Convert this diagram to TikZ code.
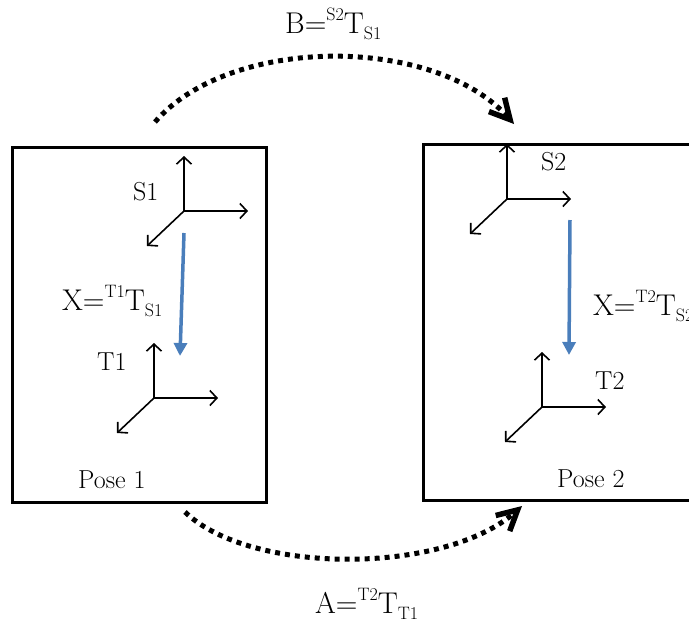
\documentclass[tikz,border=0pt]{standalone}
\usepackage{fontspec}
\usetikzlibrary{arrows.meta}
\definecolor{myblue}{HTML}{4A7EBB}
\newcommand\tflabel[3]{#1=\raisebox{0.42em}{\fontsize{18}{18}\selectfont #2}T\raisebox{-0.22em}{\fontsize{18}{18}\selectfont #3}}
\begin{document}
\begin{tikzpicture}[x=1pt,y=-1pt,
  pose/.style={draw,line width=3pt,inner sep=0pt},
  axis/.style={line width=1.6pt,-{Straight Barb[length=7pt,width=15pt,line width=1.6pt]}},
  blueconn/.style={draw=myblue,line width=3.5pt,-{Triangle[length=13pt,width=13pt]}},
  dotarc/.style={line width=5pt,dash pattern=on 5pt off 5pt,-{Straight Barb[length=20pt,width=21pt,line width=5.5pt]}},
  biglabel/.style={font=\fontsize{30}{34}\selectfont,inner sep=0pt},
  smalllabel/.style={font=\fontsize{26}{30}\selectfont,inner sep=0pt}]
\clip (0,0) rectangle (689,622);
\useasboundingbox (0,0) rectangle (689,622);
% pose boxes
\node[pose,minimum width=254pt,minimum height=355pt] (box1) at (139,324.5) {};
\node[pose,minimum width=297pt,minimum height=356pt] (box2) at (571.5,322) {};
% coordinate frames
\foreach \n/\x/\y in {s1/184/211,t1/154/398,s2/507/199,t2/542/407}{
  \coordinate (\n) at (\x,\y);
  \coordinate (\n up) at (\x,\y-55);
  \coordinate (\n right) at (\x+64,\y);
  \coordinate (\n dl) at (\x-37,\y+35);
  \draw[axis] (\n) -- (\n up);
  \draw[axis] (\n) -- (\n right);
  \draw[axis] (\n) -- (\n dl);
}
% blue transforms
\coordinate (x1a) at (184,233);
\coordinate (x1b) at (180,356);
\coordinate (x2a) at (570,220);
\coordinate (x2b) at (569,355);
\draw[blueconn] (x1a) -- (x1b);
\draw[blueconn] (x2a) -- (x2b);
% dotted arcs
\coordinate (ba) at (155,122);
\coordinate (bb) at (514,124);
\coordinate (aa) at (185,512);
\coordinate (ab) at (522,506);
\draw[dotarc] (ba) .. controls (230,35) and (435,35) .. (bb);
\draw[dotarc] (aa) .. controls (250,575) and (445,575) .. (ab);
% labels
\node[biglabel,anchor=base west] (lb) at (285,33) {\tflabel{B}{S2}{S1}};
\node[biglabel,anchor=base west] (la) at (315,613) {\tflabel{A}{T2}{T1}};
\node[biglabel,anchor=base west] (lx1) at (62,310) {\tflabel{X}{T1}{S1}};
\node[biglabel,anchor=base west] (lx2) at (593,315) {\tflabel{X}{T2}{S2}};
\node[smalllabel,anchor=base west] (ls1) at (133,200) {S1};
\node[smalllabel,anchor=base west] (lt1) at (97,370) {T1};
\node[smalllabel,anchor=base west] (ls2) at (541,170) {S2};
\node[smalllabel,anchor=base west] (lt2) at (595,389) {T2};
\node[smalllabel,anchor=base west] (lp1) at (78,488) {Pose 1};
\node[smalllabel,anchor=base west] (lp2) at (557,487) {Pose 2};
\end{tikzpicture}
\end{document}
